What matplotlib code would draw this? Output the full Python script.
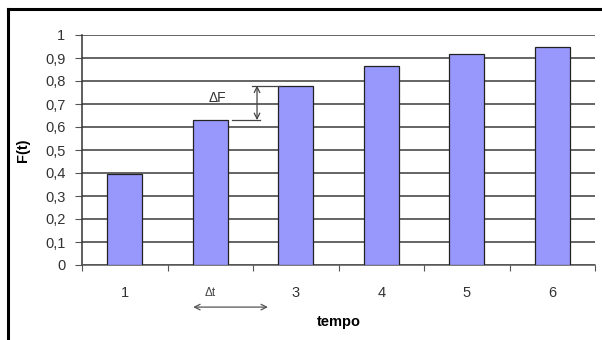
import matplotlib
matplotlib.use("Agg")
import matplotlib.pyplot as plt
from matplotlib.lines import Line2D

plt.rcParams['font.family'] = ['Liberation Sans', 'DejaVu Sans']

# Cumulative distribution F(t) sampled at each time step
tempo = ["1", "2", "3", "4", "5", "6"]
tick_labels_x = ["1", "", "3", "4", "5", "6"]
F_t = [0.395, 0.63, 0.78, 0.865, 0.918, 0.948]
y_ticks = [0, 0.1, 0.2, 0.3, 0.4, 0.5, 0.6, 0.7, 0.8, 0.9, 1.0]
y_tick_labels = ["0", "0,1", "0,2", "0,3", "0,4", "0,5", "0,6", "0,7", "0,8", "0,9", "1"]

fig = plt.figure(figsize=(6.02, 3.40), dpi=100)
fig.patch.set_facecolor("white")

# outer frame (left and top edges visible)
fig.add_artist(Line2D([7.5 / 602, 7.5 / 602], [0, 1 - 9 / 340], transform=fig.transFigure,
                      color="black", lw=2.2))
fig.add_artist(Line2D([7.5 / 602, 1.0], [1 - 9 / 340, 1 - 9 / 340], transform=fig.transFigure,
                      color="black", lw=2.2))

ax = fig.add_axes([82 / 602, 75 / 340, 513 / 602, 230 / 340])
x = list(range(len(tempo)))
ax.bar(x, F_t, width=0.41, color="#9898fc", edgecolor="#222222", linewidth=0.9, zorder=3)

ax.set_xlim(-0.5, len(tempo) - 0.5)
ax.set_ylim(0, 1)
ax.set_yticks(y_ticks)
ax.set_yticklabels(y_tick_labels)
ax.yaxis.grid(True, color="#3a3a3a", linewidth=1.1, zorder=0)
ax.set_axisbelow(True)

ax.set_xticks(x)
ax.set_xticklabels(tick_labels_x)
ax.set_xticks([i + 0.5 for i in range(-1, len(tempo))], minor=True)
ax.tick_params(axis="x", which="major", length=0, pad=15, labelsize=10.5, labelcolor="#333333")
ax.tick_params(axis="x", which="minor", length=4, direction="out", color="#555555", width=0.8)
ax.tick_params(axis="y", length=5, direction="out", color="#555555", width=0.8,
               labelsize=10.5, labelcolor="#333333", pad=7)

for side in ["top", "right"]:
    ax.spines[side].set_visible(False)
ax.spines["left"].set_color("#333333")
ax.spines["bottom"].set_color("#555555")
ax.spines["left"].set_linewidth(1.1)
ax.spines["bottom"].set_linewidth(1.1)

ax.set_ylabel("F(t)", fontsize=10.5, fontweight="bold", labelpad=11)
ax.set_xlabel("tempo", fontsize=10.5, fontweight="bold", labelpad=11)

# ΔF marker between the tops of bars 2 and 3
ax.plot([1.254, 1.58], [F_t[1], F_t[1]], color="#444444", lw=0.9, zorder=4)
ax.plot([1.49, 1.816], [F_t[2], F_t[2]], color="#444444", lw=0.9, zorder=4)
ax.annotate("", xy=(1.547, F_t[2]), xytext=(1.547, F_t[1]),
            arrowprops=dict(arrowstyle="<->", color="#444444", lw=0.9, shrinkA=0, shrinkB=0),
            zorder=4)
ax.text(1.08, 0.727, "ΔF", ha="center", va="center", fontsize=10, color="#333333", zorder=4)

# Δt marker below the axis
ax.annotate("", xy=(0.80, -0.183), xytext=(1.675, -0.183), xycoords="data",
            arrowprops=dict(arrowstyle="<->", color="#555555", lw=0.9, shrinkA=0, shrinkB=0),
            annotation_clip=False)
ax.text(1.0, -0.122, "Δt", ha="center", va="center", fontsize=8.5, color="#444444", clip_on=False)

fig.savefig("out.png", dpi=100)
